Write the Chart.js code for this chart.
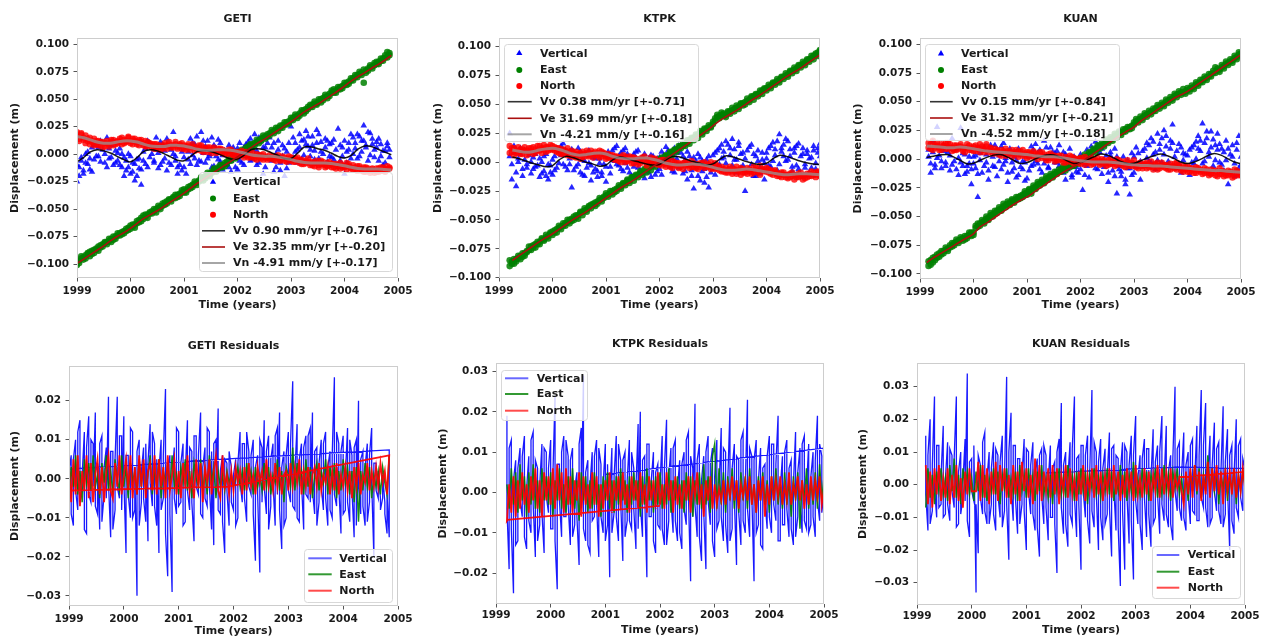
<!DOCTYPE html>
<html><head><meta charset="utf-8">
<script src="https://cdn.jsdelivr.net/npm/chart.js@4.4.1/dist/chart.umd.min.js"></script>
<style>
html,body{margin:0;padding:0;background:#fff;width:1267px;height:637px;overflow:hidden;}
canvas{position:absolute;}
</style></head><body>
<canvas id="c1"></canvas><canvas id="c2"></canvas><canvas id="c3"></canvas>
<canvas id="c4"></canvas><canvas id="c5"></canvas><canvas id="c6"></canvas>
<script>
// ---------------- DATA (displacements in mm, epochs in decimal years) ----------------
const yearTicks = [1999,2000,2001,2002,2003,2004,2005];
const topTicks = [-0.100,-0.075,-0.050,-0.025,0.000,0.025,0.050,0.075,0.100];
const getiResTicks = [-0.03,-0.02,-0.01,0.00,0.01,0.02];
const ktpkResTicks = [-0.02,-0.01,0.00,0.01,0.02,0.03];
const kuanResTicks = [-0.03,-0.02,-0.01,0.00,0.01,0.02,0.03];
const stations = ['GETI','KTPK','KUAN'];
const components = ['Vertical','East','North'];
const getiRates = ['Vv 0.90 mm/yr [+-0.76]','Ve 32.35 mm/yr [+-0.20]','Vn -4.91 mm/y [+-0.17]'];
const ktpkRates = ['Vv 0.38 mm/yr [+-0.71]','Ve 31.69 mm/yr [+-0.18]','Vn -4.21 mm/y [+-0.16]'];
const kuanRates = ['Vv 0.15 mm/yr [+-0.84]','Ve 31.32 mm/yr [+-0.21]','Vn -4.52 mm/y [+-0.18]'];

const getiEpochs = [
1999.00,1999.04,1999.08,1999.12,1999.16,1999.20,1999.24,1999.28,1999.32,1999.36,
1999.40,1999.44,1999.48,1999.52,1999.56,1999.60,1999.64,1999.68,1999.72,1999.76,
1999.80,1999.84,1999.88,1999.92,1999.96,2000.00,2000.04,2000.08,2000.12,2000.16,
2000.20,2000.24,2000.28,2000.32,2000.36,2000.40,2000.44,2000.48,2000.52,2000.56,
2000.60,2000.64,2000.68,2000.72,2000.76,2000.80,2000.84,2000.88,2000.92,2000.96,
2001.00,2001.04,2001.08,2001.12,2001.16,2001.20,2001.24,2001.28,2001.32,2001.36,
2001.40,2001.44,2001.48,2001.52,2001.56,2001.60,2001.64,2001.68,2001.72,2001.76,
2001.80,2001.84,2001.88,2001.92,2001.96,2002.00,2002.04,2002.08,2002.12,2002.16,
2002.20,2002.24,2002.28,2002.32,2002.36,2002.40,2002.44,2002.48,2002.52,2002.56,
2002.60,2002.64,2002.68,2002.72,2002.76,2002.80,2002.84,2002.88,2002.92,2002.96,
2003.00,2003.04,2003.08,2003.12,2003.16,2003.20,2003.24,2003.28,2003.32,2003.36,
2003.40,2003.44,2003.48,2003.52,2003.56,2003.60,2003.64,2003.68,2003.72,2003.76,
2003.80,2003.84,2003.88,2003.92,2003.96,2004.00,2004.04,2004.08,2004.12,2004.16,
2004.20,2004.24,2004.28,2004.32,2004.36,2004.40,2004.44,2004.48,2004.52,2004.56,
2004.60,2004.64,2004.68,2004.72,2004.76,2004.80,2004.84];
const ktpkEpochs = [
1999.20,1999.24,1999.28,1999.32,1999.36,1999.40,1999.44,1999.48,1999.52,1999.56,
1999.60,1999.64,1999.68,1999.72,1999.76,1999.80,1999.84,1999.88,1999.92,1999.96,
2000.00,2000.04,2000.08,2000.12,2000.16,2000.20,2000.24,2000.28,2000.32,2000.36,
2000.40,2000.44,2000.48,2000.52,2000.56,2000.60,2000.64,2000.68,2000.72,2000.76,
2000.80,2000.84,2000.88,2000.92,2000.96,2001.00,2001.04,2001.08,2001.12,2001.16,
2001.20,2001.24,2001.28,2001.32,2001.36,2001.40,2001.44,2001.48,2001.52,2001.56,
2001.60,2001.64,2001.68,2001.72,2001.76,2001.80,2001.84,2001.88,2001.92,2001.96,
2002.00,2002.04,2002.08,2002.12,2002.16,2002.20,2002.24,2002.28,2002.32,2002.36,
2002.40,2002.44,2002.48,2002.52,2002.56,2002.60,2002.64,2002.68,2002.72,2002.76,
2002.80,2002.84,2002.88,2002.92,2002.96,2003.00,2003.04,2003.08,2003.12,2003.16,
2003.20,2003.24,2003.28,2003.32,2003.36,2003.40,2003.44,2003.48,2003.52,2003.56,
2003.60,2003.64,2003.68,2003.72,2003.76,2003.80,2003.84,2003.88,2003.92,2003.96,
2004.00,2004.04,2004.08,2004.12,2004.16,2004.20,2004.24,2004.28,2004.32,2004.36,
2004.40,2004.44,2004.48,2004.52,2004.56,2004.60,2004.64,2004.68,2004.72,2004.76,
2004.80,2004.84,2004.88,2004.92,2004.96,2005.00];
const kuanEpochs = [
1999.16,1999.20,1999.24,1999.28,1999.32,1999.36,1999.40,1999.44,1999.48,1999.52,
1999.56,1999.60,1999.64,1999.68,1999.72,1999.76,1999.80,1999.84,1999.88,1999.92,
1999.96,2000.00,2000.04,2000.08,2000.12,2000.16,2000.20,2000.24,2000.28,2000.32,
2000.36,2000.40,2000.44,2000.48,2000.52,2000.56,2000.60,2000.64,2000.68,2000.72,
2000.76,2000.80,2000.84,2000.88,2000.92,2000.96,2001.00,2001.04,2001.08,2001.12,
2001.16,2001.20,2001.24,2001.28,2001.32,2001.36,2001.40,2001.44,2001.48,2001.52,
2001.56,2001.60,2001.64,2001.68,2001.72,2001.76,2001.80,2001.84,2001.88,2001.92,
2001.96,2002.00,2002.04,2002.08,2002.12,2002.16,2002.20,2002.24,2002.28,2002.32,
2002.36,2002.40,2002.44,2002.48,2002.52,2002.56,2002.60,2002.64,2002.68,2002.72,
2002.76,2002.80,2002.84,2002.88,2002.92,2002.96,2003.00,2003.04,2003.08,2003.12,
2003.16,2003.20,2003.24,2003.28,2003.32,2003.36,2003.40,2003.44,2003.48,2003.52,
2003.56,2003.60,2003.64,2003.68,2003.72,2003.76,2003.80,2003.84,2003.88,2003.92,
2003.96,2004.00,2004.04,2004.08,2004.12,2004.16,2004.20,2004.24,2004.28,2004.32,
2004.36,2004.40,2004.44,2004.48,2004.52,2004.56,2004.60,2004.64,2004.68,2004.72,
2004.76,2004.80,2004.84,2004.88,2004.92,2004.96,2005.00];
const fitEpochs = [
1999.000,1999.125,1999.250,1999.375,1999.500,1999.625,1999.750,1999.875,
2000.000,2000.125,2000.250,2000.375,2000.500,2000.625,2000.750,2000.875,
2001.000,2001.125,2001.250,2001.375,2001.500,2001.625,2001.750,2001.875,
2002.000,2002.125,2002.250,2002.375,2002.500,2002.625,2002.750,2002.875,
2003.000,2003.125,2003.250,2003.375,2003.500,2003.625,2003.750,2003.875,
2004.000,2004.125,2004.250,2004.375,2004.500,2004.625,2004.750,2004.875,
2005.000];

// ---- GETI time series (mm); two observation sets per epoch
const getiVert = [
-25,-12,-3,-18,-8,2,-14,6,-5,10, -2,12,4,-8,15,-4,8,-10,3,-6,
5,-12,-3,-15,0,-18,-8,-24,-5,-13, -28,2,-9,12,-3,8,-6,15,1,-10,
9,-4,14,-8,4,20,-2,-12,6,-15, -3,-18,2,-9,10,-4,16,-6,20,1,
-8,12,-2,15,-11,5,-5,10,-14,3, -9,8,-16,-1,-12,5,-6,2,-10,9,
-2,14,-5,18,3,-8,12,-18,6,-3, 15,-6,10,-12,4,-15,8,-20,2,-8,
25,-3,10,4,18,-5,13,21,7,-2, 16,3,22,-4,11,0,14,-7,9,-3,
13,-10,23,-6,6,-18,2,10,-4,15, 5,18,-2,12,26,8,20,-1,14,4,
11,-6,9,-10,3,7,-3];
const getiVert2 = [
-10,-20,-6,-15,0,-9,-4,-16,8,-2, 6,-7,10,0,-12,5,-3,12,-8,1,
-10,0,-20,-6,-12,-2,-16,-9,-20,-4, -14,-6,5,-12,10,0,-8,4,-13,11,
-7,3,-15,7,-10,0,-6,-18,-10,2, -12,6,-5,14,-1,9,-10,4,-7,12,
7,-4,0,-12,8,-2,13,-7,-1,-10, 2,-12,-6,6,-3,-14,10,-8,6,-2,
11,-6,4,9,-10,15,-2,6,-12,10, -4,6,-16,0,12,-8,-2,5,-13,10,
-6,15,2,-8,6,12,-1,9,16,4, 8,-5,10,18,2,-9,6,12,-2,10,
-5,4,-12,8,-2,12,-8,4,18,0, 10,-4,16,2,12,6,-6,19,9,-3,
6,14,-2,3,-8,10,4];
const getiEast = [
-101,-97,-95,-96,-92,-91,-93,-88,-87,-86, -84,-85,-82,-81,-82,-79,-77,-78,-75,-74,
-72,-73,-70,-70,-67,-68,-66,-64,-63,-60, -58,-59,-57,-55,-53,-54,-52,-50,-49,-48,
-45,-46,-43,-42,-41,-39,-40,-37,-36,-35, -35,-33,-30,-31,-28,-27,-26,-24,-23,-21,
-20,-19,-18,-16,-15,-14,-12,-12,-10,-8, -7,-6,-4,-3,-2,0,1,2,3,4,
7,7,9,10,11,12,14,15,16,18, 19,20,21,22,24,24,26,27,29,30,
31,33,34,35,37,38,40,41,43,43, 45,46,46,48,50,51,52,53,55,56,
56,58,59,61,62,63,65,66,67,69, 70,72,73,74,65,76,78,79,80,81,
82,84,85,87,88,93,90];
const getiEast2 = [
-97,-99,-93,-94,-95,-90,-89,-91,-90,-87, -88,-83,-84,-80,-80,-77,-80,-75,-77,-72,
-74,-71,-72,-68,-69,-65,-64,-67,-61,-62, -61,-56,-55,-58,-54,-52,-50,-53,-47,-50,
-47,-44,-45,-41,-43,-40,-37,-39,-38,-33, -32,-35,-32,-29,-30,-25,-28,-25,-21,-24,
-22,-17,-20,-17,-13,-16,-13,-10,-12,-11, -9,-4,-6,-1,-4,2,-1,4,1,6,
4,9,6,8,13,10,12,17,14,16, 17,22,19,24,21,26,24,29,27,28,
33,31,36,33,35,40,37,39,41,45, 43,48,45,50,47,49,54,51,53,58,
59,56,61,59,60,65,63,64,69,67, 72,70,75,72,77,74,76,81,78,83,
84,82,87,85,90,88,92];
const getiNorth = [
20,14,18,13,17,12,15,11,14,9, 12,8,11,7,10,9,13,8,11,10,
14,9,13,11,15,10,14,12,9,13, 11,8,12,7,10,6,9,5,8,4,
7,10,5,9,6,8,11,7,9,5, 8,4,7,6,9,3,6,5,8,2,
5,2,6,3,4,1,5,2,4,0, 3,0,4,-1,2,-2,1,3,-1,0,
-3,1,-2,-4,0,-3,-1,-5,-2,-3, -1,-4,-2,-6,-3,-5,-2,-6,-4,-5,
-3,-7,-4,-6,-8,-5,-9,-6,-7,-10, -7,-11,-8,-10,-6,-9,-12,-8,-10,-9,
-12,-9,-11,-13,-10,-12,-8,-11,-13,-10, -14,-11,-13,-15,-12,-16,-13,-15,-14,-17,
-13,-16,-12,-15,-14,-11,-13];
const getiNorth2 = [
16,12,19,15,10,14,9,12,8,12, 8,11,6,10,12,7,11,13,9,12,
11,15,10,12,16,12,9,14,11,8, 13,10,7,11,8,9,5,9,6,8,
5,8,7,11,8,6,9,5,8,10, 5,7,9,4,7,6,4,8,3,6,
3,6,4,1,6,3,2,5,1,3, 1,4,2,0,-2,2,-1,1,-3,2,
-1,-3,1,-2,-5,-1,-4,0,-3,-5, -4,-2,-5,-3,-1,-6,-4,-3,-7,-2,
-6,-4,-7,-3,-5,-9,-7,-8,-4,-8, -10,-8,-6,-12,-9,-7,-10,-11,-7,-12,
-9,-13,-10,-8,-12,-11,-14,-9,-12,-14, -12,-15,-11,-14,-16,-12,-15,-17,-13,-15,
-16,-13,-15,-12,-16,-14,-12];
const getiVv = [-7,-3,2,4,3,1,-2,-5, -7,-3,2.5,4,3,0.5,-2.5,-5.5, -6,-2,2.5,3.4,2.5,0.5,-2,-4.5,
 -4.5,-1,4,5,4,1.5,-1,-4, -4,1,6.5,6.5,5,3.5,1,-2, -3.5,-1,4.5,7.5,7,4.5,2,-0.5, null];
const getiVe = [-99.5,-95.5,-91.5,-87.5,-83.5,-79,-75,-71.5, -67.5,-63,-58.5,-55,-51.5,-47.5,-43.5,-39.5,
 -35.5,-31,-26.5,-22.5,-18.5,-14.5,-10.5,-6.5, -2.5,2,6,10,13.5,17.5,21.5,25.5,
 29.5,34,38.5,42,45.5,49.5,53.5,57.5, 62,66.5,70.5,74,78,81.5,85.5,90, null];
const getiVn = [16,15,13,11,10,10,11,12, 12,11,9,7.5,7,7,8,8, 7.5,6,4.5,3.5,3.5,4,4,3.5,
 2.5,1,-0.5,-1.5,-2,-2,-2.5,-3.5, -5,-6.5,-7.5,-8,-8,-8,-8.5,-9.5, -10.5,-12,-13,-13.5,-13.5,-13.5,-14,-14.5, null];

// ---- KTPK time series (mm)
const ktpkVert = [
25,-15,8,-21,3,12,-6,10,-2,6, -10,4,-4,11,-13,0,-8,7,-15,-3,
-11,5,-5,9,14,-2,10,-7,3,-22, 8,-4,12,-9,2,-12,6,-1,-16,4,
-6,-13,3,-9,-2,-17,5,-4,10,1, 14,-3,8,-8,12,-5,2,-12,7,-1,
10,-7,4,-14,1,-9,6,-4,-11,3, -6,9,-2,13,0,7,-8,12,3,-5,
8,-10,2,-15,5,-7,-23,1,-12,4, -8,-18,2,-22,-4,6,-11,10,-2,15,
4,18,-6,12,20,2,-9,14,7,-3, -25,10,-6,15,-12,5,1,-10,8,-15,
3,12,-4,17,6,-7,24,9,15,1, 18,5,-8,12,-3,16,-11,7,-5,10,
-9,4,14,-6,8,16];
const ktpkVert2 = [
5,-2,14,-9,0,7,-12,2,-5,9, 0,-6,7,-3,3,-10,5,-12,-2,-9,
2,-7,12,-1,6,16,-4,8,-2,11, -7,5,-2,9,-11,1,-5,10,-3,-9,
3,-8,-1,-12,6,-4,9,-10,2,12, -2,5,-6,10,-1,7,-9,4,-4,9,
-5,2,-10,7,-4,3,-13,5,-1,-8, 4,-11,6,-1,10,-4,3,-9,8,14,
-3,5,-8,9,-1,-12,4,-5,7,-16, 1,-6,-13,5,-9,-2,8,-4,12,3,
9,-1,15,6,-3,11,2,17,-5,8, 3,-8,13,-2,7,-12,10,-5,2,-1,
8,-3,14,1,11,18,-2,12,5,20, 2,11,-4,8,14,-6,5,12,-2,7,
3,-5,10,-1,12,5];
const ktpkEast = [
-90,-86,-88,-84,-83,-81,-82,-79,-77,-76, -73,-74,-71,-71,-69,-67,-68,-65,-64,-62,
-60,-61,-58,-57,-56,-55,-53,-52,-50,-49, -47,-48,-46,-44,-43,-42,-41,-39,-37,-37,
-35,-34,-33,-32,-30,-29,-28,-27,-25,-24, -23,-22,-21,-19,-18,-16,-16,-14,-13,-12,
-11,-10,-9,-7,-6,-5,-4,-2,-1,0, 2,3,3,5,6,7,9,10,11,12,
14,14,16,17,19,20,21,22,24,25, 26,28,29,30,31,33,38,39,40,41,
40,41,43,44,45,46,47,48,50,51, 52,53,54,56,57,58,59,60,62,63,
64,65,66,68,69,70,71,73,74,75, 76,78,79,80,81,83,84,85,86,88,
89,90,92,93,95,96];
const ktpkEast2 = [
-85,-88,-84,-86,-81,-84,-79,-81,-78,-73, -76,-72,-74,-69,-71,-66,-67,-63,-66,-61,
-63,-59,-61,-55,-58,-53,-55,-50,-53,-51, -50,-46,-49,-43,-46,-40,-43,-38,-40,-36,
-38,-36,-31,-34,-31,-27,-30,-25,-28,-26, -25,-20,-23,-18,-20,-15,-18,-13,-16,-11,
-13,-8,-11,-6,-9,-3,-7,-1,-4,2, -1,4,1,6,4,9,6,11,9,14,
12,16,14,19,16,21,19,24,21,27, 24,29,27,32,30,35,36,41,38,43,
42,39,44,42,47,44,49,46,51,49, 50,55,52,57,54,59,57,62,59,64,
62,67,64,69,67,72,69,74,72,77, 74,79,77,82,79,84,82,87,84,89,
87,92,89,94,92,97];
const ktpkNorth = [
14,9,12,8,13,7,11,10,6,12, 9,13,8,14,10,12,15,9,13,11,
14,10,12,8,11,7,10,6,9,5, 8,4,7,3,9,5,8,6,10,4,
9,6,10,5,8,3,7,4,6,2, 5,1,4,6,0,3,5,-1,4,2,
-2,3,1,5,-1,2,4,0,3,-2, 1,-3,2,-2,0,-4,1,-3,-1,-5,
-2,-6,0,-3,-5,1,-4,-2,-6,-1, -3,0,-4,-2,-6,-3,-1,-5,-7,-4,
-8,-5,-9,-6,-10,-7,-4,-8,-11,-6, -9,-5,-8,-10,-4,-7,-9,-3,-6,-8,
-5,-9,-7,-11,-8,-12,-10,-13,-9,-11, -14,-10,-12,-15,-11,-13,-9,-12,-14,-10,
-12,-8,-11,-13,-9,-10];
const ktpkNorth2 = [
8,12,6,10,9,11,7,13,10,8, 12,7,11,10,14,8,11,13,10,15,
11,13,9,12,7,11,8,12,6,10, 5,9,6,8,4,7,10,5,7,8,
6,8,4,9,7,5,4,6,3,5, 2,4,0,3,5,1,2,4,-1,3,
1,-1,4,2,-3,1,0,3,-1,1, -2,2,-1,-4,1,-2,-5,0,-3,-1,
-4,-1,-3,0,-2,-4,-1,-5,-2,-4, -1,-5,-2,-4,0,-5,-6,-3,-5,-8,
-6,-9,-7,-4,-8,-6,-10,-7,-5,-9, -7,-10,-6,-8,-9,-5,-8,-11,-7,-6,
-8,-6,-10,-8,-7,-10,-12,-9,-11,-13, -11,-13,-9,-11,-13,-10,-12,-15,-11,-13,
-10,-12,-9,-11,-8,-12];
const ktpkVv = [null,null,4.5,3,1,-1,-2.5,-4, -3,2,5,4,2,0,-1.5,-3.5, -2.5,2,4.5,3.5,1.5,0,-1.5,-2.5,
 -2,2,5,4.5,2.5,0.5,-1,-2.5, -1.5,2.5,5.5,4.5,2.5,0.5,-1,-2, -1,3,6,5,3,1,-0.5,-1.5, -2];
const ktpkVe = [null,null,-85,-81,-77,-73,-69,-65.5, -62,-58,-54,-50,-46.5,-43,-39,-35,
 -31,-27,-23,-19.5,-16,-12,-8,-4, 0,3.5,7,11,15,19,23,27, 31.5,36,39.5,43,46.5,50.5,54.5,58,
 62,66,70,74,77.5,81,85,89, 93];
const ktpkVn = [null,null,10.5,9.5,8.5,9,10.5,11.5, 12,11,9,7,6,6.5,7.5,8, 7,5,3.5,3,3,3.5,3.5,2.5,
 1,-1,-2,-2.5,-2,-1.5,-2,-3, -4.5,-6,-7,-7,-6.5,-6,-6.5,-7.5, -8.5,-9.5,-10.5,-11,-10.5,-10,-10,-10.5, -11];

// ---- KUAN time series (mm)
const kuanVert = [
8,-12,15,-5,28,3,-8,12,-3,6, -10,18,-2,9,-14,27,-6,4,-11,-4,
-22,2,-8,-33,5,-12,10,-3,-18,7, -6,12,-15,3,-9,14,-2,-20,6,-11,
2,-16,9,-7,-2,-19,4,-10,11,-5, 13,-4,8,-12,16,0,-8,10,-15,5,
-3,12,-11,6,-18,-1,9,-14,2,-7, -12,4,-27,-5,8,-16,11,-2,15,-9,
6,-13,12,-4,-20,3,-10,9,-30,-6, -15,2,-22,-8,-31,5,-12,10,-4,-18,
7,-6,14,-2,18,4,-9,22,8,-3, 25,11,-5,16,30,2,-8,13,-12,5,
-9,3,-14,10,-4,15,20,7,31,-2, 18,6,24,-6,12,22,-3,9,-10,16,
-22,4,12,-15,8,20,-5];
const kuanVert2 = [
2,-4,6,-8,1,10,-2,7,-6,12, 3,-5,8,-9,1,-3,5,-13,-6,2,
-9,-4,3,-13,-1,8,-6,4,-10,12, 2,-7,8,-2,11,-5,1,-12,9,-3,
-8,-1,-14,4,-9,-3,-17,2,-6,8, -2,5,-9,3,-4,10,-7,2,6,-3,
7,-6,1,-12,4,-9,-2,-16,-5,-11, -3,-9,2,-14,-6,4,-1,8,-8,12,
-4,9,-7,3,-12,6,-2,-15,2,-9, -11,-4,-18,-1,-8,-14,2,-7,5,-2,
-5,9,1,12,-3,15,6,-1,13,18, 4,20,-2,9,14,-6,7,-4,10,-1,
4,-8,8,-3,12,0,9,16,-4,14, 24,2,10,17,-1,8,13,-5,6,-1,
9,-12,2,-4,14,-8,2];
const kuanEast = [
-93,-88,-90,-85,-86,-82,-83,-80,-79,-78, -75,-76,-73,-72,-73,-70,-69,-70,-67,-66,
-67,-64,-58,-59,-56,-55,-54,-52,-51,-49, -48,-47,-45,-44,-43,-41,-40,-39,-38,-36,
-36,-35,-33,-34,-31,-30,-29,-27,-28,-25, -24,-22,-21,-20,-19,-17,-16,-15,-14,-13,
-11,-11,-9,-8,-8,-7,-5,-6,-4,-3, -2,-1,1,2,3,4,6,7,8,10,
11,12,13,15,16,17,18,20,21,22, 23,24,26,26,28,27,32,33,34,35,
36,38,39,40,41,42,44,45,46,47, 48,50,51,52,53,55,56,57,58,58,
59,60,61,62,63,65,66,67,69,70, 71,72,74,75,80,77,78,80,81,83,
84,85,86,88,89,91,92];
const kuanEast2 = [
-89,-92,-86,-88,-83,-85,-80,-82,-77,-80, -77,-73,-75,-70,-71,-68,-71,-67,-69,-64,
-64,-66,-60,-56,-58,-53,-56,-50,-53,-47, -50,-45,-47,-42,-45,-39,-42,-37,-40,-35,
-38,-33,-35,-32,-33,-28,-31,-26,-30,-23, -26,-20,-23,-18,-21,-15,-18,-13,-16,-11,
-13,-9,-11,-6,-10,-5,-7,-4,-6,-1, -4,1,-1,4,1,6,4,9,6,12,
9,14,11,17,14,19,16,22,19,24, 21,26,24,28,26,29,30,35,32,37,
34,40,37,42,39,44,42,47,44,49, 46,52,49,54,51,57,54,59,56,61,
57,62,59,64,61,67,64,69,67,72, 69,74,72,77,75,79,76,82,79,85,
82,87,84,90,87,93,90];
const kuanNorth = [
14,9,16,10,12,8,13,11,9,14, 10,7,12,8,11,13,9,6,10,12,
8,11,7,10,13,9,6,11,8,10, 5,9,7,4,8,6,3,7,5,2,
6,8,4,7,3,5,1,6,4,2, 5,0,3,6,2,-1,4,1,3,-2,
2,-1,3,0,-3,1,-2,2,-4,0, -3,1,-2,-5,0,-3,1,-4,-1,-2,
-5,0,-3,-6,-1,-4,-2,-6,0,-3, -5,-2,-7,-3,-4,-6,-1,-5,-8,-3,
-6,-4,-8,-5,-2,-7,-4,-9,-6,-3, -7,-5,-9,-4,-6,-8,-3,-7,-10,-6,
-9,-6,-11,-8,-12,-7,-10,-9,-13,-8, -11,-14,-9,-12,-10,-15,-8,-13,-11,-14,
-10,-13,-16,-9,-12,-14,-11];
const kuanNorth2 = [
10,13,8,12,14,10,8,12,14,9, 13,10,8,12,9,11,7,10,13,8,
10,7,12,9,6,11,8,13,6,9, 7,5,8,6,3,7,9,4,6,8,
4,6,2,5,8,3,6,2,5,7, 2,4,6,1,4,2,-1,5,1,3,
-1,3,0,-3,2,-1,3,-2,1,-3, 0,-4,-1,2,-3,0,-5,-1,-3,1,
-2,-4,-1,-3,-5,0,-4,-2,-5,-1, -3,-6,-4,-1,-6,-3,-5,-7,-4,-6,
-8,-5,-3,-7,-6,-9,-5,-3,-8,-6, -5,-8,-6,-9,-7,-4,-9,-5,-8,-11,
-7,-11,-8,-10,-9,-12,-8,-11,-10,-12, -9,-12,-13,-10,-14,-11,-13,-10,-15,-12,
-14,-11,-12,-15,-10,-13,-14];
const kuanVv = [null,1.5,2.5,3.5,4,2,-1,-4, -3.5,-1,1.5,3.5,4,2,-1,-3.8, -3,-0.5,2,3.5,3.5,1.5,-1.5,-3.8,
 -3,-0.5,2,4.4,3.5,1,-2,-3.8, -3.5,-1.5,1,3,4.4,3,0.5,-2.5, -3.8,-2.5,0,3,5,3.5,0.5,-2.5, -4];
const kuanVe = [null,-90,-86,-82.5,-79,-75.5,-72,-68.5, -65,-59,-55.5,-51.5,-47.5,-43.5,-39.5,-36,
 -33,-29,-25,-21,-17,-13,-9.5,-6.5, -3,1,5,9,13,17,21,24.5, 28,33,37,41,45,49,53,56,
 59,63,67,71,75,79,83,87, 91];
const kuanVn = [null,11.5,11,10.5,10,10,10.5,10, 9,8,7,6.5,6,5.5,5,4.5, 4,3,2.5,2,2,1.5,0.5,-0.5,
 -1.5,-2,-2.5,-2.5,-2.5,-3,-3.5,-4.5, -5,-5.5,-5.5,-6,-6,-6.5,-7,-7.5, -8,-8.5,-9,-9.5,-10,-10,-10.5,-11, -11.5];

// ---- Residuals (mm); vertical residuals have two samples per epoch
const getiResVert = [
-17,6,-12,10,-8,15,-3,12,-14,16, -6,9,17,-9,-13,11,-4,8,21,-15,
7,-8,21,-5,11,16,-19,6,-10,12, -8,-30,10,-6,8,-11,-16,14,-7,9,
-12,-19,10,-5,23,-25,6,-29,8,-9, 12,-6,9,-11,15,-8,7,-16,11,-4,
17,-10,8,-7,12,-13,-17,10,18,-9, 6,-19,4,-12,3,-8,5,-10,12,-6,
9,-11,7,-4,10,-21,6,-24,8,15, -9,11,-7,9,-12,13,17,-18,7,-10,
12,-6,25,-8,14,-11,9,-13,11,-5, 13,17,-9,8,-6,10,-8,12,-12,7,
-10,26,-7,9,-14,11,-8,13,-11,6, -15,10,20,-9,7,-12,9,-6,13,-20,
4,-5,-5,-5,-6,-14,-15];
const getiResVert2 = [
2,-9,5,-3,12,-6,1,-13,8,-4, 10,-2,-7,4,9,-11,3,-5,-1,7,
-13,5,-2,11,-8,0,6,-4,13,-10, 3,7,-12,2,-5,9,4,-1,12,-7,
5,2,-8,6,-14,3,-9,1,-5,13, -7,4,-12,1,-3,8,-6,11,-2,6,
-9,3,-5,13,-2,7,9,-4,-8,2, -11,5,-3,7,-6,1,-12,4,-1,9,
-5,12,-2,6,-9,3,-4,10,-6,-2, 7,-13,5,-1,11,-4,-8,3,-12,6,
-3,9,-7,2,-10,5,-1,8,-4,11, -6,-3,7,-12,4,-2,9,-5,3,-8,
6,-4,12,-2,7,-9,1,-6,10,-3, 8,-12,-2,5,-7,3,-11,6,-1,4,
-3,2,-8,1,-9,-4,-10];
const getiResVertTail = [[2004.84,7.4],[2002.12,5.3],[1999.02,2.5]];
const getiResEast = [
-5,3,-2,6,-4,2,-6,5,-1,4, -3,6,-2,1,-5,4,-1,6,-3,2,
-4,5,0,-3,6,-2,3,-5,4,-1, 2,-4,5,-2,4,-3,1,6,-4,3,
-2,5,-5,2,-1,4,-3,6,-2,1, -4,3,-1,5,-3,2,-5,4,0,-2,
5,-3,2,-4,6,-1,3,-5,2,-2, 1,-3,2,-1,1,-2,0,3,-2,2,
-3,4,-1,2,-4,3,-2,1,-3,4, -2,3,-4,1,-1,5,-3,2,-6,3,
1,-2,8,-3,4,-1,2,-4,5,-2, 3,-5,1,4,-3,2,-1,5,-4,3,
-2,4,-5,2,-3,5,-1,3,-4,2, -6,3,-11,2,-3,4,-2,3,-5,1,
-2,2,-4,3,-1,-4,6];
const getiResNorth = [
3,-6,5,-4,6,-7,2,-3,6,-5, 4,-6,1,5,-4,3,-6,2,6,-3,
-5,4,-2,6,-4,1,5,-3,6,-5, 3,-4,6,-2,5,-5,2,4,-3,6,
-4,5,-2,3,-5,6,-3,1,5,-4, 2,-5,4,-2,6,-3,1,-5,5,-2,
4,-6,3,-1,5,-4,2,6,-3,-5, 6,-2,1,-4,2,-3,3,-1,2,-4,
3,-3,4,-2,1,-4,3,-1,2,-3, 5,-2,1,-3,4,-2,3,-4,1,2,
-3,4,-2,3,-1,5,-4,2,-2,3, -4,1,3,-2,4,-3,1,-1,3,-4,
2,-3,4,-4,1,-2,3,-3,2,-5, 3,-2,4,-4,1,-1,4,-3,2,-2,
3,-2,4,-1,2,-4,6];
const getiResNorthTail = [[2001.9,-2],[1999.05,-3]];

const ktpkResVert = [
19,-19,13,-25,8,-12,11,-6,14,-14, 9,-10,15,-16,6,-8,12,-15,10,-5,
13,-9,24,-24,7,-11,14,-6,9,-13, 11,-8,5,-18,16,29,-12,8,-15,10,
-6,13,-16,7,-10,12,-8,-21,11,-5, 14,-12,8,-17,10,-7,13,-9,6,-14,
17,20,-11,9,-21,12,-6,10,-15,7, -9,14,-13,18,-7,11,-10,13,-12,8,
-14,10,-8,15,-22,6,22,-11,12,-17, 9,-19,14,-8,11,-16,13,-7,16,-12,
10,-15,21,-9,12,-18,8,-13,15,-10, 23,-11,9,-22,13,-8,11,-14,7,-9,
14,-10,12,-7,19,-12,9,-8,13,-11, 8,-13,15,-6,11,-10,14,-9,12,-8,
10,-11,19,-7,9,0];
const ktpkResVert2 = [
-4,11,-9,3,-13,6,-2,9,-11,1, -7,13,-3,8,-12,2,-5,11,-1,6,
-9,4,-12,7,-2,10,-6,13,-3,8, -11,1,-6,12,-4,-9,5,-13,2,-7,
9,-3,11,-6,2,-12,7,-1,-10,4, -6,12,-2,8,-11,3,-7,10,-4,1,
-9,-3,8,-1,12,-6,3,-12,5,-8, 2,-9,6,-13,4,-2,11,-7,1,-10,
7,-4,13,-1,9,-6,-3,8,-11,3, -5,10,-2,7,-12,4,-9,1,-6,11,
-8,3,-12,6,-2,9,-5,13,-7,2, -4,11,-1,8,-10,3,-13,6,-2,9,
-6,12,-3,7,-12,1,-8,10,-4,6, -9,2,-11,5,-3,12,-7,1,-10,4,
-6,8,-2,12,-5,3];
const ktpkResVertTail = [[2004.99,11],[2001.0,4.5]];
const ktpkResEast = [
2,-4,6,-3,5,-5,7,-2,4,-6, 5,-3,7,-4,3,-5,6,-2,4,-3,
5,-6,3,-2,6,-4,2,-5,4,-3, 6,-4,3,-7,5,-2,4,-5,3,-4,
5,-3,2,-6,4,-2,5,-4,3,-5, 4,-3,6,-2,3,-5,4,-3,5,-2,
3,-6,4,-3,6,-2,3,-5,4,-3, 5,-4,2,-3,6,-5,3,-2,4,-4,
3,-5,5,-2,4,-6,3,-3,5,-4, 7,-3,4,-5,9,12,-4,6,-3,5,
-5,4,-2,6,-4,3,-5,5,-2,4, -4,6,-3,2,-5,4,-2,5,-3,3,
-5,4,-2,6,-3,2,-4,5,-3,3, -6,4,-2,5,-9,3,-2,6,-4,3,
-3,5,-4,7,-2,4];
const ktpkResNorthHead = [[2002.0,-3.3],[1999.21,-6.8]];
const ktpkResNorth = [
-7,2,-5,4,-6,3,-4,5,-3,2, -5,4,-2,6,-4,3,-6,5,-2,4,
-3,6,-4,7,-2,5,-5,6,-3,4, -5,3,-2,5,-6,4,-3,2,-4,5,
-3,4,-6,2,-4,3,-2,5,-5,3, -2,4,-4,5,-3,2,-5,4,-2,3,
-4,5,-3,2,-5,4,-2,3,-4,5, -3,2,-4,5,-2,3,-5,4,-3,2,
-4,3,-2,4,-5,3,-1,5,-3,2, -6,3,-2,4,-4,2,-3,1,-2,3,
-3,2,-1,4,-2,3,-4,2,-1,3, -2,4,-3,2,-5,3,-2,4,-6,2,
-3,4,-2,3,-1,4,-3,2,-2,5, -3,2,-1,4,-2,3,-4,2,-3,4,
-2,3,-1,4,-3,1];

const kuanResVert = [
15,-14,20,-8,27,-10,12,-6,18,-9, 13,-11,9,-7,27,-12,10,-4,14,34,
-16,8,-5,-33,-21,6,-9,16,-12,10, -6,13,-14,9,-10,15,-8,33,-23,22,
-11,12,-15,8,-6,14,-20,10,-9,13, -14,8,-22,11,-12,9,-17,12,-10,7,
-27,14,25,-15,10,-19,13,-12,27,-16, 9,-26,12,-10,15,-18,29,-13,10,-20,
14,-17,11,-9,16,-22,12,-14,8,-31, 13,-26,10,-18,15,-29,21,-12,9,-20,
14,-16,11,-19,17,-10,12,-15,21,-11, 18,-13,9,-17,30,-8,13,-11,16,-14,
10,-12,14,-9,18,-11,29,-7,25,-13, 15,-10,19,-8,13,-12,24,-9,17,-20,
12,-15,20,-10,14,-8,5];
const kuanResVert2 = [
-3,9,-12,6,-1,12,-7,3,-10,2, -6,11,-2,8,-13,4,-9,1,-5,-11,
7,-2,12,-6,9,-4,13,-8,2,-12, 5,-9,11,-3,7,-13,2,-6,10,-1,
12,-4,8,-12,3,-8,11,-2,6,-9, 4,-13,9,-3,12,-7,1,-10,5,-12,
10,-3,-7,6,-12,2,-9,11,-4,8, -6,12,-2,9,-11,4,-8,13,-3,7,
-10,5,-12,3,-7,11,-1,9,-13,4, -8,12,-3,6,-11,9,-5,2,-12,8,
-4,11,-9,2,-12,7,-3,10,-6,1, -9,4,-12,8,-2,11,-7,3,-10,6,
-3,12,-8,2,-11,9,-4,12,-7,3, -12,6,-2,11,-8,4,-13,7,-1,9,
-11,3,-7,12,-4,8,5];
const kuanResVertTail = [[2003.78,5.4],[2001.35,3.6]];
const kuanResEast = [
-7,5,-4,3,-6,4,-2,5,-3,2, -5,6,-2,8,-4,3,-6,5,-1,4,
-3,2,-5,4,-2,6,-4,3,-5,2, -2,5,-3,4,-6,3,-1,5,-4,2,
-3,4,-5,6,-2,3,-4,5,-2,3, -5,4,-2,6,-3,2,-4,3,-6,4,
-2,5,-3,2,-4,6,-2,3,-5,4, -3,5,-2,4,-6,3,-1,5,-3,2,
-4,3,-2,5,-3,4,-5,2,-2,6, -3,4,-5,3,-2,7,-4,2,-3,5,
-2,4,-5,3,-1,5,-4,2,-3,6, -2,3,-5,4,-1,5,-3,2,-4,3,
-5,4,-2,6,-3,5,-4,3,-2,9, -3,5,-2,4,-6,3,-1,4,-5,3,
-2,5,-6,3,-2,4,0];
const kuanResNorth = [
6,-6,4,-7,5,-3,6,-5,2,-4, 5,-6,3,-4,6,-5,2,-7,4,-3,
5,-2,-2,-2,7,-5,6,-4,5,-6, 4,-3,7,-5,6,-2,5,-4,3,-6,
6,-3,4,-5,7,-2,5,-4,3,-6, 8,-3,6,-5,4,-2,5,-4,6,-3,
5,-6,3,-2,6,-4,5,-3,2,-5, 4,-3,6,-5,3,-2,5,-4,6,-3,
4,-5,3,-2,5,-4,6,-3,4,-5, 3,-4,5,-2,4,-5,6,-3,2,-4,
5,-3,4,-5,3,-2,6,-4,5,-3, 4,-2,5,-4,3,-1,2,-2,-6,4,
-3,5,-4,6,-2,4,-5,3,-3,7, -4,5,-2,6,-3,4,-6,5,-2,4,
-3,5,-4,3,-2,5,-1];
const kuanResNorthTail = [[2004.98,3.9],[2003.78,2.3]];

// ---------------- STYLE / LAYOUT ----------------
const FONT = "'DejaVu Sans', Verdana, sans-serif";
const TXT = '#1a1a1a';
const C_BLUE = 'rgba(0,0,255,0.85)', C_GREEN = 'rgba(0,128,0,0.85)', C_RED = 'rgba(255,0,0,0.8)';
Chart.defaults.font.family = FONT;
Chart.defaults.color = TXT;

const pts = (ts, mm) => ts.map((t, i) => ({x: t, y: mm[i] == null ? null : mm[i] / 1000})).filter(p => p.y !== null);
const pairs = arr => arr.map(([t, v]) => ({x: t, y: v / 1000}));
const interleave = (ts, a, b) => ts.flatMap((t, i) => [{x: t, y: a[i] / 1000}, {x: t, y: b[i] / 1000}]);

function topSets(ep, vert, vert2, east, east2, north, north2, vv, ve, vn) {
  const line = (label, d, color, w, order) => ({label, data: pts(fitEpochs, d), showLine: true, borderColor: color,
    borderWidth: w, pointRadius: 0, tension: 0.35, order});
  return [
    line('Vn', vn, 'rgba(150,150,150,0.75)', 3, 0),
    line('Ve', ve, 'rgb(170,15,15)', 1.6, 1),
    line('Vv', vv, 'rgba(0,0,0,0.9)', 1.5, 2),
    {label: components[2], data: pts(ep, north).concat(pts(ep, north2)), pointStyle: 'circle', pointRadius: 3.2, backgroundColor: C_RED, borderWidth: 0, order: 3},
    {label: components[1], data: pts(ep, east).concat(pts(ep, east2)), pointStyle: 'circle', pointRadius: 3.3, backgroundColor: C_GREEN, borderWidth: 0, order: 4},
    {label: components[0], data: pts(ep, vert).concat(pts(ep, vert2)), pointStyle: 'triangle', pointRadius: 3.8, backgroundColor: C_BLUE, borderWidth: 0, order: 5}
  ];
}
function resSets(ep, v, v2, e, n, ext) {
  const line = (label, d, color, w, order) => ({label, data: d, showLine: true, borderColor: color, borderWidth: w,
    pointRadius: 0, tension: 0, order});
  return [
    line(components[2], [...pairs(ext.nHead || []), ...pts(ep, n), ...pairs(ext.nTail || [])], 'rgba(255,0,0,0.92)', 1.8, 0),
    line(components[1], pts(ep, e), 'rgba(0,128,0,0.9)', 1.5, 1),
    line(components[0], [...interleave(ep, v, v2), ...pairs(ext.vTail || [])], 'rgba(0,0,255,0.9)', 1.3, 2)
  ];
}
function topItems(rates) {
  return [
    {label: components[0], kind: 'tri', color: 'rgb(0,0,255)'},
    {label: components[1], kind: 'dot', color: 'rgb(0,128,0)'},
    {label: components[2], kind: 'dot', color: 'rgb(255,0,0)'},
    {label: rates[0], kind: 'line', color: '#333', w: 1.6},
    {label: rates[1], kind: 'line', color: 'rgb(170,15,15)', w: 1.6},
    {label: rates[2], kind: 'line', color: 'rgba(150,150,150,0.85)', w: 2}
  ];
}
const resItems = [
  {label: components[0], kind: 'line', color: 'rgba(40,40,255,0.7)', w: 2},
  {label: components[1], kind: 'line', color: 'rgba(0,128,0,0.8)', w: 2},
  {label: components[2], kind: 'line', color: 'rgba(255,30,30,0.8)', w: 2}
];

const decorById = {};
const panelDecor = {
  id: 'panelDecor',
  afterDatasetsDraw(chart) {
    const o = decorById[chart.canvas.id];
    const c = chart.ctx, a = chart.chartArea, ox = o.ox, oy = o.oy;
    c.save();
    c.strokeStyle = '#cdcdcd'; c.lineWidth = 1;
    c.strokeRect(Math.round(a.left) + 0.5, Math.round(a.top) + 0.5, Math.round(a.right - a.left) - 1, Math.round(a.bottom - a.top) - 1);
    const L = o.legend;
    const [bx, by, bw, bh] = L.box;
    c.beginPath();
    if (c.roundRect) c.roundRect(bx - ox + 0.5, by - oy + 0.5, bw, bh, 3); else c.rect(bx - ox + 0.5, by - oy + 0.5, bw, bh);
    c.fillStyle = 'rgba(255,255,255,0.8)'; c.fill();
    c.strokeStyle = '#d8d8d8'; c.lineWidth = 1; c.stroke();
    c.font = `bold 11px ${FONT}`; c.textAlign = 'left'; c.textBaseline = 'middle';
    L.items.forEach((it, i) => {
      const y = L.rows[i] - oy;
      if (it.kind === 'tri') {
        const x = L.markX - ox, r = 3.6;
        c.beginPath(); c.moveTo(x, y - r); c.lineTo(x + r * 0.866, y + r * 0.5); c.lineTo(x - r * 0.866, y + r * 0.5); c.closePath();
        c.fillStyle = it.color; c.fill();
      } else if (it.kind === 'dot') {
        c.beginPath(); c.arc(L.markX - ox, y, 3, 0, Math.PI * 2); c.fillStyle = it.color; c.fill();
      } else {
        c.beginPath(); c.moveTo(L.line[0] - ox, y); c.lineTo(L.line[1] - ox, y);
        c.strokeStyle = it.color; c.lineWidth = it.w; c.stroke();
      }
      c.fillStyle = TXT; c.fillText(it.label, L.textX - ox, y + 0.5);
    });
    c.fillStyle = TXT; c.textAlign = 'center'; c.textBaseline = 'middle'; c.font = `bold 11px ${FONT}`;
    const cx = (a.left + a.right) / 2;
    c.fillText(o.title, cx, o.titleY - oy);
    c.fillText('Time (years)', cx, o.xTitleY - oy);
    c.translate(o.yTitleX - ox, (a.top + a.bottom) / 2); c.rotate(-Math.PI / 2);
    c.fillText('Displacement (m)', 0, 0);
    c.restore();
  }
};

const fmt = (v, d) => (Math.abs(v) < 1e-12 ? 0 : v).toFixed(d).replace('-', '\u2212');

function panel(p) {
  const el = document.getElementById(p.id);
  const [cx, cy, cw, ch] = p.box, [L, T, R, B] = p.area;
  el.style.left = cx + 'px'; el.style.top = cy + 'px'; el.width = cw; el.height = ch;
  el.style.width = cw + 'px'; el.style.height = ch + 'px';
  decorById[p.id] = Object.assign({ox: cx, oy: cy}, p.decor);
  const yW = L - cx, xH = cy + ch - B;
  new Chart(el, {
    type: 'scatter',
    data: {datasets: p.sets},
    options: {
      responsive: false, animation: false, devicePixelRatio: 1, events: [],
      layout: {padding: {left: 0, top: T - cy, right: cx + cw - R, bottom: 0}},
      plugins: {legend: {display: false}, tooltip: {enabled: false}},
      scales: {
        x: {type: 'linear', min: 1999, max: 2005,
          afterBuildTicks: s => { s.ticks = yearTicks.map(v => ({value: v})); },
          afterFit: s => { s.height = xH; s.paddingLeft = 0; s.paddingRight = 0; },
          ticks: {callback: v => String(v), font: {size: 10.5, weight: 'bold'}, color: TXT, padding: p.xPad, maxRotation: 0, autoSkip: false},
          grid: {display: true, drawOnChartArea: false, drawTicks: true, tickLength: 3.5, color: '#555'},
          border: {display: false}},
        y: {type: 'linear', min: p.y[0], max: p.y[1],
          afterBuildTicks: s => { s.ticks = p.ticks.map(v => ({value: v})); },
          afterFit: s => { s.width = yW; s.paddingTop = 0; s.paddingBottom = 0; },
          ticks: {callback: v => fmt(v, p.dec), font: {size: 10.5, weight: 'bold'}, color: TXT, padding: 4.5, autoSkip: false},
          grid: {display: true, drawOnChartArea: false, drawTicks: true, tickLength: 3.5, color: '#555'},
          border: {display: false}}
      }
    },
    plugins: [panelDecor]
  });
}

const panels = [
  {id: 'c1', box: [0, 0, 425, 320], area: [77, 38, 398, 278], y: [-0.11274, 0.10574], ticks: topTicks, dec: 3, xPad: 3.5,
   sets: topSets(getiEpochs, getiVert, getiVert2, getiEast, getiEast2, getiNorth, getiNorth2, getiVv, getiVe, getiVn),
   decor: {title: stations[0], titleY: 19.5, yTitleX: 15, xTitleY: 305,
     legend: {box: [199, 172, 193, 99], rows: [182, 198.5, 214.7, 230.8, 247, 263], markX: 213, line: [202, 225], textX: 233, items: topItems(getiRates)}}},
  {id: 'c2', box: [425, 0, 420, 320], area: [499, 38, 820, 278], y: [-0.1003, 0.1075], ticks: topTicks, dec: 3, xPad: 3.5,
   sets: topSets(ktpkEpochs, ktpkVert, ktpkVert2, ktpkEast, ktpkEast2, ktpkNorth, ktpkNorth2, ktpkVv, ktpkVe, ktpkVn),
   decor: {title: stations[1], titleY: 19.5, yTitleX: 437.7, xTitleY: 305,
     legend: {box: [504, 44, 194, 97], rows: [53.3, 70, 86, 101.7, 118.3, 134.3], markX: 519.3, line: [507.7, 531.7], textX: 540, items: topItems(ktpkRates)}}},
  {id: 'c3', box: [845, 0, 422, 320], area: [920, 38, 1241, 279], y: [-0.1044, 0.1055], ticks: topTicks, dec: 3, xPad: 3.5,
   sets: topSets(kuanEpochs, kuanVert, kuanVert2, kuanEast, kuanEast2, kuanNorth, kuanNorth2, kuanVv, kuanVe, kuanVn),
   decor: {title: stations[2], titleY: 19.5, yTitleX: 858.3, xTitleY: 305,
     legend: {box: [925, 44, 194, 96], rows: [53.7, 70, 86, 101.7, 118, 134], markX: 941, line: [930, 952.7], textX: 961, items: topItems(kuanRates)}}},
  {id: 'c4', box: [0, 320, 425, 317], area: [69, 366, 398, 606], y: [-0.0326, 0.0289], ticks: getiResTicks, dec: 2, xPad: 3,
   sets: resSets(getiEpochs, getiResVert, getiResVert2, getiResEast, getiResNorth, {vTail: getiResVertTail, nTail: getiResNorthTail}),
   decor: {title: stations[0] + ' Residuals', titleY: 346, yTitleX: 15, xTitleY: 631.5,
     legend: {box: [304, 549, 88, 53], rows: [558.3, 574.3, 590.7], line: [308.3, 331.7], textX: 339.3, items: resItems}}},
  {id: 'c5', box: [425, 320, 420, 317], area: [496, 363, 824, 604], y: [-0.02765, 0.0321], ticks: ktpkResTicks, dec: 2, xPad: 1.5,
   sets: resSets(ktpkEpochs, ktpkResVert, ktpkResVert2, ktpkResEast, ktpkResNorth, {vTail: ktpkResVertTail, nHead: ktpkResNorthHead}),
   decor: {title: stations[1] + ' Residuals', titleY: 344, yTitleX: 443.3, xTitleY: 630,
     legend: {box: [501, 370, 86, 50], rows: [378.3, 394, 410.7], line: [505, 528.3], textX: 536.7, items: resItems}}},
  {id: 'c6', box: [845, 320, 422, 317], area: [917, 363, 1245, 605], y: [-0.03682, 0.03725], ticks: kuanResTicks, dec: 2, xPad: 1,
   sets: resSets(kuanEpochs, kuanResVert, kuanResVert2, kuanResEast, kuanResNorth, {vTail: kuanResVertTail, nTail: kuanResNorthTail}),
   decor: {title: stations[2] + ' Residuals', titleY: 344.3, yTitleX: 863.3, xTitleY: 630,
     legend: {box: [1152, 546, 88, 52], rows: [555, 571.7, 587.7], line: [1156.7, 1179.3], textX: 1187.7, items: resItems}}}
];
panels.forEach(panel);
</script>
</body></html>
